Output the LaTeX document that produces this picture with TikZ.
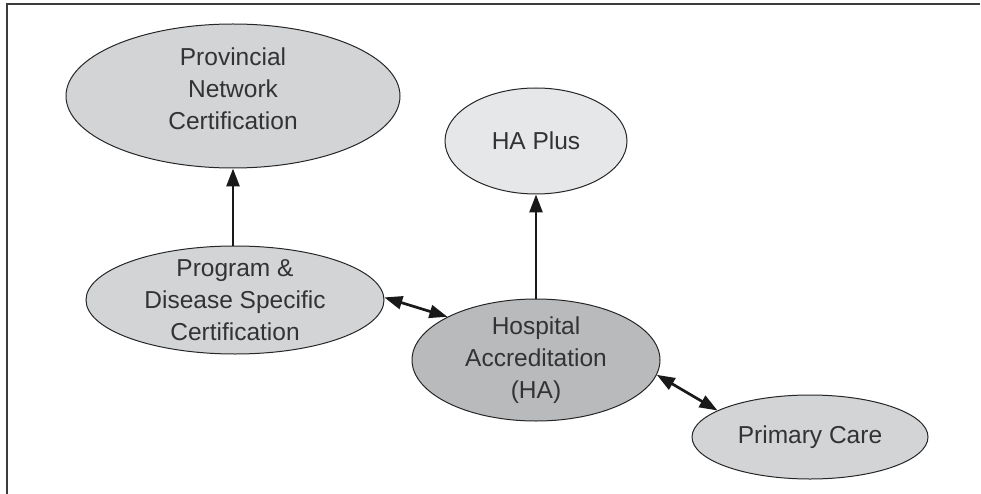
\documentclass[tikz,border=0pt]{standalone}
\usepackage{fontspec}
\setmainfont{Liberation Sans}
\usetikzlibrary{shapes.geometric,arrows.meta}

\definecolor{fillmid}{HTML}{D3D4D6}
\definecolor{filllight}{HTML}{E6E7E8}
\definecolor{filldark}{HTML}{B9BABC}
\definecolor{ink}{HTML}{333333}
\definecolor{framegray}{HTML}{3C3C3C}

\begin{document}
\begin{tikzpicture}[x=1pt,y=-1pt,
  bubble/.style={ellipse, draw=black!85, line width=1pt, inner sep=0pt},
  lbl/.style={font=\fontsize{24.5}{32}\selectfont, text=ink, align=center, inner sep=0pt},
  tip/.tip={Triangle[length=18pt,width=13pt]},
  link/.style={line width=2.7pt, draw=black!90, -tip},
  twoway/.style={line width=2.7pt, draw=black!90, tip-tip}]

\useasboundingbox (0,0) rectangle (981,494);

% open frame: left and top rules
\draw[framegray, line width=2pt] (7,494) -- (7,4.5) -- (980,4.5);

% certification / accreditation programmes
\node[bubble, fill=fillmid, minimum width=334pt, minimum height=144pt] (pnc) at (233,96) {};
\node[lbl] (pnctext) at (233,89) {Provincial\\Network\\Certification};

\node[bubble, fill=filllight, minimum width=182pt, minimum height=106pt] (hap) at (536,141) {};
\node[lbl] (haptext) at (536,141) {HA Plus};

\node[bubble, fill=fillmid, minimum width=298pt, minimum height=108pt] (pds) at (235,300) {};
\node[lbl] (pdstext) at (235,300) {Program \&\\Disease Specific\\Certification};

\node[bubble, fill=filldark, minimum width=248pt, minimum height=122pt] (ha) at (536,360) {};
\node[lbl] (hatext) at (536,360) {Hospital\\Accreditation\\(HA)};

\node[bubble, fill=fillmid, minimum width=236pt, minimum height=84pt] (pc) at (810,437) {};
\node[lbl] (pctext) at (810,437) {Primary Care};

% connectors
\draw[link] (pds.north -| pnc.south) -- (pnc.south);
\draw[link] (ha.north) -- (hap.south);
\draw[twoway] (pds.1) -- (ha.154);
\draw[twoway] (ha.-7) -- (pc.164);

\end{tikzpicture}
\end{document}
